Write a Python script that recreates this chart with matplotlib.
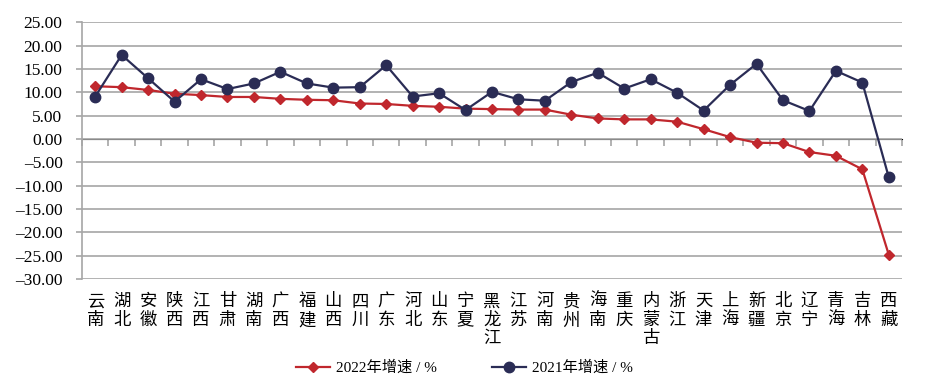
import numpy as np
import matplotlib.pyplot as plt
from matplotlib.ticker import FuncFormatter

plt.rcParams['font.family'] = ['Liberation Serif', 'Noto Sans CJK SC']

provinces = ['云南', '湖北', '安徽', '陕西', '江西', '甘肃', '湖南', '广西', '福建', '山西',
             '四川', '广东', '河北', '山东', '宁夏', '黑龙江', '江苏', '河南', '贵州', '海南',
             '重庆', '内蒙古', '浙江', '天津', '上海', '新疆', '北京', '辽宁', '青海', '吉林', '西藏']
growth_2022 = [11.3, 11.1, 10.5, 9.7, 9.4, 9.0, 9.0, 8.6, 8.4, 8.3,
               7.6, 7.5, 7.1, 6.9, 6.5, 6.4, 6.3, 6.3, 5.2, 4.4,
               4.2, 4.2, 3.7, 2.1, 0.4, -0.8, -0.9, -2.8, -3.6, -6.5, -24.8]
growth_2021 = [9.1, 18.0, 13.0, 8.0, 12.8, 10.7, 11.9, 14.4, 11.9, 11.0,
               11.1, 15.8, 9.1, 9.8, 6.2, 10.1, 8.5, 8.2, 12.2, 14.2,
               10.8, 12.8, 9.9, 6.1, 11.6, 16.1, 8.3, 6.0, 14.6, 12.1, -8.2]
legend_labels = ['2022年增速 / %', '2021年增速 / %']

red = '#C0272D'
navy = '#2A2C55'
grid_c = '#a6a6a6'

x = np.arange(len(provinces))
fig = plt.figure(figsize=(9.29, 3.86), dpi=100)
ax = fig.add_axes([82/929, 1-279/386, (902-82)/929, (279-22.3)/386])

ax.plot(x, growth_2022, color=red, lw=1.6, marker='D', ms=5.5, label=legend_labels[0], zorder=3)
ax.plot(x, growth_2021, color=navy, lw=1.6, marker='o', ms=7.5, label=legend_labels[1], zorder=4)

ax.set_xlim(-0.5, len(provinces) - 0.5)
ax.set_ylim(-30, 25)
ax.set_yticks(np.arange(-30, 26, 5))
ax.yaxis.set_major_formatter(FuncFormatter(lambda v, p: ('–%.2f' % -v) if v < 0 else '%.2f' % v))
ax.yaxis.grid(True, color=grid_c, lw=1.2)
ax.set_axisbelow(True)
ax.tick_params(axis='y', length=4, width=1.2, color=grid_c, pad=10, labelsize=12.5)

for s in ['top', 'right', 'bottom']:
    ax.spines[s].set_visible(False)
ax.spines['left'].set_color(grid_c)
ax.spines['left'].set_linewidth(1.2)

ax.set_xticks(x)
ax.set_xticklabels(['\n'.join(p) for p in provinces], linespacing=1.2, va='top')
ax.tick_params(axis='x', length=0, pad=11, labelsize=12.5)

# axis line with boundary ticks at y = 0
sec = ax.secondary_xaxis(30/55)
sec.set_xticks(np.arange(-0.5, len(provinces), 1))
sec.set_xticklabels([])
sec.tick_params(axis='x', length=5, width=1.2, color=grid_c, direction='in')
sec.spines['bottom'].set_color(grid_c)
sec.spines['bottom'].set_linewidth(1.2)

fig.legend(loc='center', bbox_to_anchor=(0.5, 1-368/386), ncol=2, frameon=False,
           fontsize=11, handlelength=2.2, columnspacing=3.6, handletextpad=0.4)

fig.savefig('out.png', dpi=100)
